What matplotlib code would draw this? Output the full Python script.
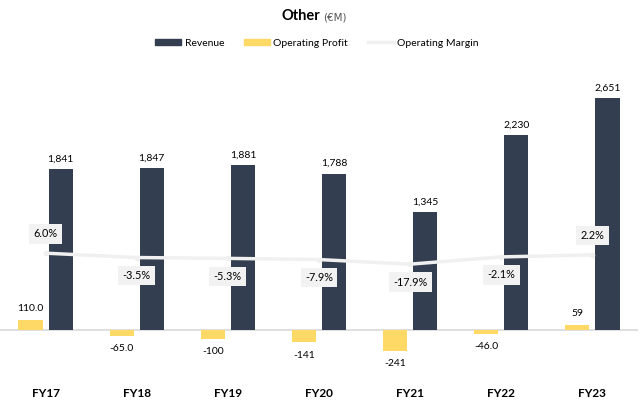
import numpy as np
import matplotlib.pyplot as plt
from matplotlib.patches import Patch
from matplotlib.lines import Line2D

plt.rcParams['font.family'] = ['Lato', 'DejaVu Sans']

years = ['FY17', 'FY18', 'FY19', 'FY20', 'FY21', 'FY22', 'FY23']
revenue = [1841, 1847, 1881, 1788, 1345, 2230, 2651]
op_profit = [110.0, -65.0, -100, -141, -241, -46.0, 59]
profit_labels = ['110.0', '-65.0', '-100', '-141', '-241', '-46.0', '59']
margin = [6.0, -3.5, -5.3, -7.9, -17.9, -2.1, 2.2]

navy = '#333f50'
yellow = '#ffd966'
line_gray = '#f0f0f0'

fig = plt.figure(figsize=(6.4, 4.05), dpi=100)
ax = fig.add_axes([0.0, 1 - 370 / 405, 638 / 640, 310 / 405])
x = np.arange(len(years))
w = 0.265
off = 0.165

ax.bar(x - off, op_profit, w, color=yellow, zorder=2)
ax.bar(x + off, revenue, w, color=navy, zorder=2)
ax.axhline(0, color='#d9d9d9', lw=1.2, zorder=1)
ax.set_xlim(-0.5, len(years) - 0.5)
ax.set_ylim(-457, 3086)

for i in range(len(years)):
    ax.annotate(f'{revenue[i]:,}', (x[i] + off, revenue[i]), xytext=(0, 4),
                textcoords='offset points', ha='center', va='bottom', fontsize=7.5)
    if op_profit[i] >= 0:
        ax.annotate(profit_labels[i], (x[i] - off, op_profit[i]), xytext=(0, 5),
                    textcoords='offset points', ha='center', va='bottom', fontsize=7.5)
    else:
        ax.annotate(profit_labels[i], (x[i] - off, op_profit[i]), xytext=(0, -6),
                    textcoords='offset points', ha='center', va='top', fontsize=7.5)

ax.set_xticks(x)
ax.set_xticklabels(years, fontsize=8.5, fontweight='bold')
ax.tick_params(axis='x', length=0, pad=13)
ax.set_yticks([])
for s in ax.spines.values():
    s.set_visible(False)

# margin on hidden secondary axis
ax2 = ax.twinx()
ax2.set_ylim(-248, 426)
ax2.plot(x, margin, color=line_gray, lw=2.5, marker='o', ms=3, zorder=3)
ax2.set_yticks([])
for s in ax2.spines.values():
    s.set_visible(False)

box = dict(boxstyle='square,pad=0.4', fc='#f2f2f2', ec='none')
for i, m in enumerate(margin):
    above = i in (0, 6)
    ax2.annotate(f'{m:.1f}%', (x[i], m), xytext=(0, 10 if above else -9),
                 textcoords='offset points', ha='center',
                 va='bottom' if above else 'top', fontsize=7.8, bbox=box)

fig.text(0.5, 1 - 16 / 405, 'Other', ha='right', va='center',
         fontsize=10.5, fontweight='bold')
fig.text(0.505, 1 - 17 / 405, '(€M)', ha='left', va='center',
         fontsize=7.5, color='#555555', family=['DejaVu Sans'])

handles = [Patch(color=navy), Patch(color=yellow),
           Line2D([0], [0], color=line_gray, lw=2.5)]
fig.legend(handles, ['Revenue', 'Operating Profit', 'Operating Margin'],
           loc='center', bbox_to_anchor=(0.495, 1 - 43 / 405), ncol=3,
           frameon=False, fontsize=7.5, handlelength=2.5, handleheight=0.6,
           columnspacing=1.9, handletextpad=0.3)

fig.savefig('out.png', dpi=100)
